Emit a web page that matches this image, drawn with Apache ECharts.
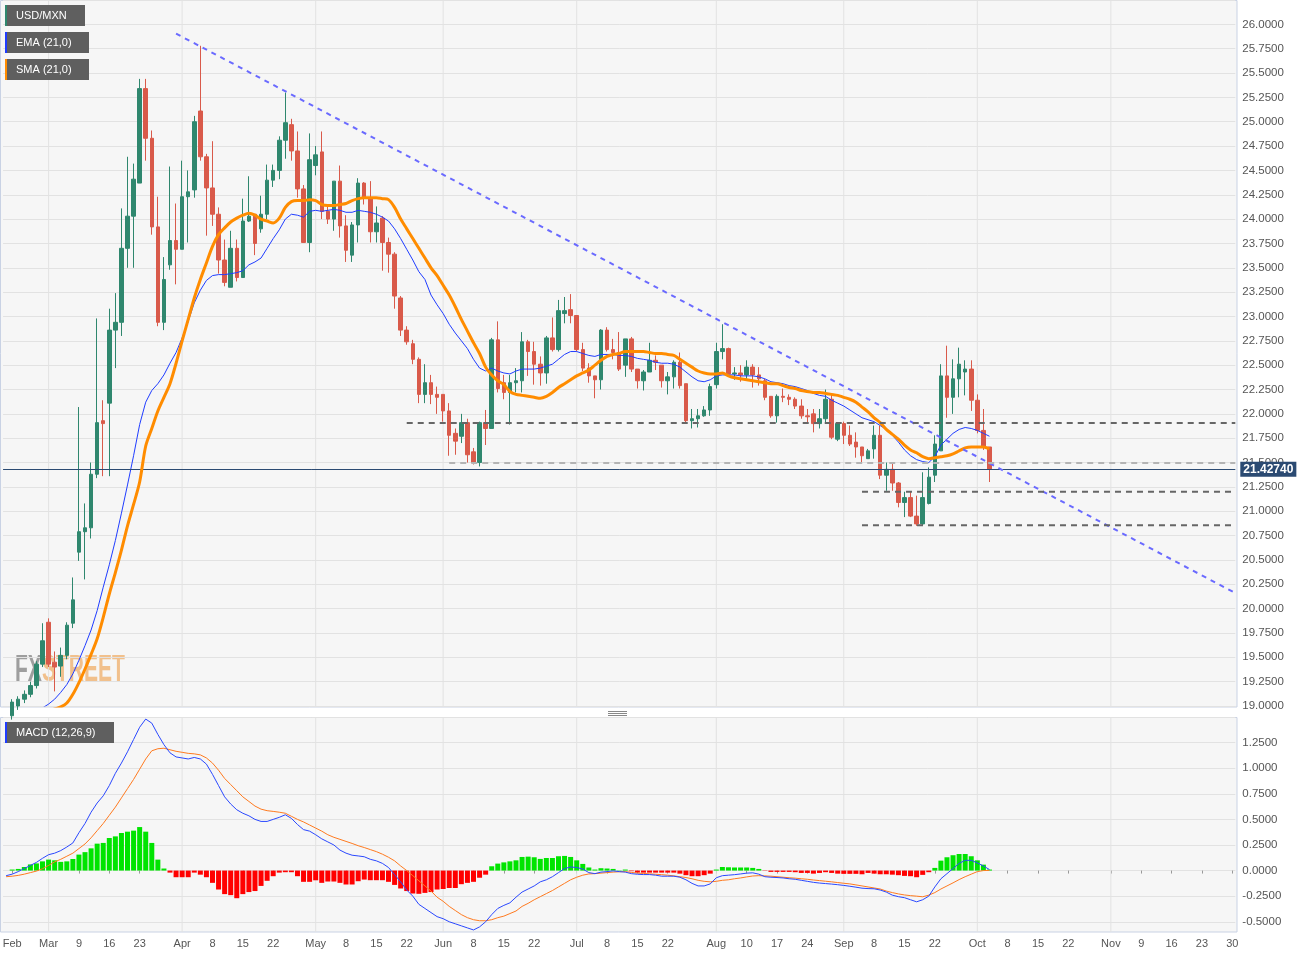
<!DOCTYPE html>
<html><head><meta charset="utf-8">
<script src="https://cdn.jsdelivr.net/npm/echarts@6/dist/echarts.min.js"></script>
<style>html,body{margin:0;padding:0;background:#fff;}#c{width:1314px;height:958px;}</style>
</head><body><div id="c"></div>
<script>
// ---------- DATA ----------
const START_DATE = '2020-02-20';
const END_DATE = '2020-11-30';

const OPEN = [18.72,18.90,19.00,19.07,19.12,19.21,19.43,19.86,19.45,19.41,19.52,19.85,20.58,20.79,20.83,21.38,21.93,22.11,22.86,22.94,
23.70,24.03,24.37,25.34,24.83,23.92,22.94,23.53,23.78,23.69,24.23,24.30,25.11,24.64,24.32,24.05,23.58,23.30,23.70,23.40,
23.98,24.05,23.90,24.05,24.40,24.50,24.81,24.97,24.70,24.31,23.76,24.55,24.69,24.08,24.00,24.39,23.93,23.63,23.94,24.37,
24.22,23.87,24.01,23.76,23.64,23.19,22.86,22.72,22.56,22.20,22.32,22.20,22.20,22.03,21.80,21.77,21.91,21.61,21.50,21.91,
21.85,22.76,22.32,22.22,22.32,22.34,22.74,22.64,22.51,22.42,22.78,22.66,23.03,23.07,23.01,22.66,22.47,22.39,22.35,22.86,
22.66,22.63,22.50,22.77,22.46,22.34,22.43,22.55,22.50,22.34,22.38,22.53,22.31,21.93,21.95,21.98,22.04,22.30,22.64,22.67,
22.41,22.42,22.40,22.48,22.40,22.34,22.18,21.98,22.18,22.17,22.15,22.08,21.98,22.00,21.90,21.95,22.15,21.74,21.90,21.78,
21.71,21.66,21.54,21.64,21.78,21.37,21.43,21.29,21.09,21.14,20.95,20.87,21.08,21.37,21.62,22.39,22.17,22.36,22.43,22.46,
22.14,21.83,21.66];
const CLOSE = [18.86,19.04,19.07,19.12,19.21,19.43,19.67,19.43,19.40,19.52,19.83,20.09,20.79,20.83,21.38,21.91,21.90,22.86,22.94,23.70,
24.03,24.41,25.34,24.83,23.92,22.94,23.38,23.78,23.69,24.23,24.28,25.00,24.64,24.32,24.05,23.58,23.35,23.70,23.40,23.98,
24.03,23.75,24.05,24.40,24.50,24.81,24.99,24.70,24.31,23.76,24.61,24.66,24.08,24.00,24.39,23.93,23.68,23.94,24.37,24.22,
23.87,23.96,23.76,23.64,23.21,22.86,22.74,22.56,22.20,22.32,22.20,22.17,22.03,21.78,21.72,21.91,21.58,21.50,21.91,21.85,
22.76,22.26,22.22,22.32,22.34,22.74,22.64,22.51,22.42,22.78,22.66,23.06,23.06,23.01,22.66,22.47,22.39,22.35,22.86,22.66,
22.63,22.46,22.77,22.46,22.34,22.43,22.55,22.53,22.34,22.38,22.53,22.29,21.93,21.95,21.98,22.04,22.28,22.64,22.67,22.41,
22.42,22.40,22.48,22.40,22.36,22.17,21.98,22.18,22.17,22.15,22.08,21.98,21.97,21.90,21.95,22.15,21.76,21.90,21.78,21.69,
21.66,21.57,21.62,21.78,21.37,21.43,21.29,21.09,21.14,20.95,20.87,21.14,21.35,21.69,22.39,22.17,22.36,22.51,22.46,22.14,
21.83,21.66,21.43];
const LOW = [18.68,18.86,18.96,19.03,19.09,19.18,19.40,19.40,19.15,19.30,19.48,19.80,20.49,20.30,20.72,21.34,21.36,21.36,22.47,22.80,
23.50,23.50,24.37,24.60,23.84,22.90,22.86,23.48,23.33,23.69,23.76,24.22,24.60,23.83,23.93,23.44,23.31,23.30,23.36,23.40,
23.97,23.63,23.86,24.00,24.33,24.41,24.62,24.60,24.22,23.76,23.66,24.45,24.00,23.95,23.88,23.81,23.56,23.56,23.76,24.15,
23.76,23.76,23.47,23.45,23.08,22.80,22.71,22.51,22.11,22.11,22.10,22.00,21.92,21.57,21.58,21.70,21.50,21.48,21.46,21.68,
21.85,22.22,22.15,21.89,22.22,22.22,22.39,22.30,22.29,22.31,22.64,22.64,22.93,22.93,22.64,22.44,22.32,22.16,22.25,22.64,
22.56,22.44,22.38,22.43,22.26,22.24,22.43,22.45,22.27,22.20,22.26,22.26,21.91,21.85,21.86,21.97,21.98,22.26,22.56,22.41,
22.35,22.33,22.36,22.27,22.29,22.14,21.96,21.91,22.12,22.09,22.05,21.95,21.91,21.81,21.85,21.91,21.74,21.72,21.69,21.67,
21.55,21.50,21.54,21.54,21.33,21.21,21.21,21.04,20.94,20.94,20.85,20.85,21.07,21.30,21.62,21.96,22.00,22.17,22.19,22.03,
21.80,21.63,21.30];
const HIGH = [18.90,19.07,19.10,19.16,19.25,19.46,19.85,19.90,19.56,19.60,19.86,20.32,22.07,21.08,21.50,22.98,22.14,23.08,23.24,24.11,
24.64,24.57,25.44,25.44,24.91,24.23,23.61,24.54,24.16,24.60,24.50,25.06,25.78,24.67,24.80,24.12,23.79,23.88,23.79,24.21,
24.44,24.05,24.24,24.56,24.56,24.85,25.30,25.03,24.90,24.35,24.88,24.75,24.90,24.15,24.39,24.55,24.04,23.97,24.42,24.38,
24.39,24.13,24.03,23.81,23.66,23.21,22.90,22.76,22.58,22.51,22.40,22.28,22.20,22.11,21.85,22.00,21.95,21.65,21.92,22.04,
22.78,22.95,22.40,22.40,22.47,22.84,22.76,22.74,22.59,22.80,22.99,23.17,23.20,23.23,23.01,22.73,22.52,22.39,22.87,22.89,
22.77,22.84,22.77,22.79,22.46,22.45,22.73,22.60,22.50,22.43,22.55,22.63,22.31,22.05,22.05,22.08,22.31,22.73,22.92,22.68,
22.48,22.50,22.55,22.51,22.48,22.36,22.18,22.20,22.26,22.20,22.17,22.15,22.05,22.05,22.05,22.25,22.20,21.91,21.92,21.88,
21.81,21.66,21.64,21.88,21.88,21.50,21.49,21.30,21.20,21.20,21.16,21.40,21.45,21.78,22.51,22.70,22.56,22.68,22.55,22.55,
22.20,22.05,21.66];
const EMA21 = [18.78,18.82,18.86,18.89,18.92,18.95,18.98,19.02,19.07,19.14,19.22,19.33,19.47,19.62,19.78,19.98,20.22,20.45,20.70,20.98,
21.27,21.57,21.89,22.12,22.24,22.31,22.40,22.52,22.63,22.78,22.95,23.14,23.27,23.37,23.42,23.43,23.43,23.44,23.45,23.47,
23.53,23.56,23.60,23.70,23.80,23.89,24.00,24.05,24.04,24.02,24.08,24.09,24.08,24.09,24.10,24.09,24.07,24.07,24.09,24.08,
24.07,24.05,24.02,23.98,23.90,23.80,23.69,23.58,23.46,23.38,23.22,23.12,23.03,22.92,22.83,22.75,22.67,22.56,22.47,22.44,
22.47,22.44,22.42,22.41,22.44,22.46,22.46,22.46,22.47,22.49,22.51,22.56,22.61,22.64,22.64,22.62,22.60,22.59,22.61,22.61,
22.61,22.60,22.60,22.59,22.57,22.56,22.55,22.53,22.52,22.52,22.51,22.48,22.43,22.38,22.34,22.33,22.35,22.39,22.40,22.40,
22.40,22.39,22.39,22.39,22.38,22.36,22.33,22.32,22.31,22.29,22.28,22.26,22.24,22.21,22.19,22.18,22.14,22.11,22.08,22.04,
22.00,21.96,21.94,21.92,21.88,21.84,21.78,21.71,21.63,21.57,21.53,21.51,21.50,21.56,21.68,21.74,21.80,21.84,21.86,21.85,
21.83,21.80,21.77];
const SMA21 = [18.62,18.66,18.70,18.74,18.79,18.84,18.89,18.94,18.97,18.99,19.03,19.12,19.24,19.38,19.53,19.69,19.91,20.15,20.37,20.60,
20.85,21.07,21.30,21.67,21.85,22.03,22.17,22.31,22.52,22.75,22.97,23.19,23.38,23.55,23.72,23.84,23.91,23.97,24.01,24.04,
24.06,24.04,24.00,23.98,23.96,24.01,24.12,24.18,24.19,24.19,24.20,24.19,24.15,24.14,24.14,24.15,24.16,24.19,24.21,24.22,
24.22,24.22,24.21,24.20,24.12,24.00,23.90,23.80,23.70,23.60,23.50,23.42,23.32,23.22,23.10,22.97,22.85,22.73,22.62,22.48,
22.40,22.34,22.30,22.23,22.20,22.19,22.18,22.17,22.16,22.18,22.22,22.27,22.31,22.35,22.39,22.42,22.45,22.50,22.55,22.59,
22.61,22.62,22.64,22.64,22.64,22.64,22.63,22.62,22.62,22.61,22.60,22.56,22.52,22.48,22.44,22.42,22.41,22.41,22.42,22.39,
22.37,22.36,22.35,22.34,22.33,22.32,22.31,22.31,22.29,22.27,22.26,22.24,22.23,22.22,22.22,22.21,22.20,22.19,22.17,22.15,
22.12,22.07,22.02,21.96,21.91,21.84,21.79,21.74,21.68,21.63,21.60,21.56,21.54,21.55,21.56,21.57,21.59,21.62,21.65,21.66,
21.66,21.66,21.64];
const MACD_LINE = [-0.05,-0.035,-0.01,0.02,0.05,0.08,0.12,0.155,0.17,0.195,0.23,0.27,0.37,0.46,0.57,0.66,0.73,0.83,0.95,1.05,
1.16,1.28,1.40,1.48,1.44,1.33,1.23,1.15,1.11,1.10,1.09,1.105,1.09,1.04,0.94,0.83,0.72,0.65,0.594,0.56,
0.535,0.50,0.48,0.48,0.50,0.52,0.545,0.51,0.45,0.40,0.385,0.35,0.31,0.28,0.25,0.20,0.17,0.15,0.143,0.135,
0.11,0.095,0.07,0.03,-0.04,-0.11,-0.19,-0.25,-0.33,-0.37,-0.41,-0.45,-0.47,-0.50,-0.52,-0.54,-0.56,-0.58,-0.55,-0.50,
-0.43,-0.37,-0.34,-0.315,-0.26,-0.21,-0.18,-0.15,-0.11,-0.09,-0.06,-0.02,0.02,0.035,0.03,0.015,-0.02,-0.03,-0.015,-0.01,
-0.003,-0.01,-0.015,-0.03,-0.036,-0.039,-0.039,-0.045,-0.055,-0.055,-0.055,-0.065,-0.09,-0.125,-0.15,-0.15,-0.13,-0.07,-0.05,-0.045,
-0.04,-0.033,-0.025,-0.022,-0.035,-0.06,-0.065,-0.068,-0.072,-0.08,-0.085,-0.095,-0.105,-0.115,-0.122,-0.127,-0.132,-0.138,-0.145,-0.153,
-0.162,-0.172,-0.176,-0.178,-0.19,-0.21,-0.24,-0.255,-0.265,-0.285,-0.305,-0.285,-0.25,-0.16,-0.08,-0.03,0.02,0.07,0.10,0.10,
0.075,0.045,0.01];
const MACD_SIGNAL = [-0.06,-0.055,-0.047,-0.035,-0.02,-0.005,0.018,0.05,0.085,0.11,0.14,0.17,0.215,0.26,0.32,0.39,0.46,0.54,0.62,0.71,
0.80,0.89,0.99,1.09,1.17,1.19,1.195,1.18,1.165,1.155,1.145,1.14,1.13,1.10,1.05,0.98,0.90,0.84,0.78,0.72,
0.675,0.63,0.60,0.585,0.578,0.57,0.56,0.53,0.50,0.475,0.445,0.415,0.385,0.35,0.325,0.305,0.285,0.265,0.243,0.225,
0.205,0.185,0.16,0.13,0.095,0.045,0.0,-0.05,-0.10,-0.15,-0.20,-0.26,-0.30,-0.35,-0.39,-0.43,-0.46,-0.48,-0.49,-0.49,
-0.48,-0.46,-0.445,-0.42,-0.395,-0.35,-0.32,-0.285,-0.255,-0.225,-0.195,-0.16,-0.125,-0.09,-0.065,-0.045,-0.033,-0.03,-0.025,-0.02,
-0.015,-0.012,-0.01,-0.018,-0.025,-0.028,-0.032,-0.036,-0.04,-0.045,-0.052,-0.06,-0.068,-0.08,-0.095,-0.105,-0.11,-0.105,-0.095,-0.09,
-0.08,-0.072,-0.062,-0.053,-0.05,-0.052,-0.055,-0.06,-0.065,-0.07,-0.074,-0.08,-0.085,-0.092,-0.098,-0.104,-0.11,-0.117,-0.124,-0.13,
-0.14,-0.15,-0.16,-0.17,-0.18,-0.20,-0.215,-0.228,-0.238,-0.245,-0.25,-0.256,-0.24,-0.215,-0.18,-0.15,-0.12,-0.088,-0.06,-0.035,
-0.01,0.0,0.002];
const MACD_HIST = [0.0,0.01,0.016,0.035,0.06,0.07,0.09,0.107,0.10,0.085,0.09,0.113,0.156,0.18,0.217,0.263,0.27,0.318,0.334,0.367,
0.38,0.39,0.425,0.38,0.27,0.107,0.02,-0.02,-0.065,-0.065,-0.065,-0.02,-0.04,-0.065,-0.12,-0.185,-0.23,-0.24,-0.27,-0.23,
-0.21,-0.20,-0.15,-0.10,-0.055,-0.02,-0.016,-0.016,-0.055,-0.11,-0.11,-0.095,-0.12,-0.107,-0.107,-0.12,-0.136,-0.136,-0.104,-0.088,
-0.094,-0.094,-0.094,-0.11,-0.14,-0.175,-0.20,-0.224,-0.227,-0.218,-0.21,-0.185,-0.18,-0.17,-0.17,-0.133,-0.12,-0.11,-0.07,-0.04,
0.042,0.068,0.08,0.09,0.10,0.133,0.136,0.13,0.114,0.123,0.123,0.14,0.143,0.133,0.10,0.065,0.03,0.01,0.023,0.02,
0.016,0.003,0.01,-0.006,-0.02,-0.02,-0.02,-0.02,-0.02,-0.02,-0.02,-0.03,-0.045,-0.055,-0.055,-0.045,-0.03,0.01,0.035,0.032,
0.03,0.03,0.03,0.026,0.016,-0.003,-0.013,-0.013,-0.013,-0.013,-0.016,-0.023,-0.023,-0.03,-0.023,-0.016,-0.023,-0.03,-0.032,-0.032,
-0.032,-0.036,-0.023,-0.03,-0.036,-0.036,-0.04,-0.045,-0.052,-0.055,-0.065,-0.042,-0.016,0.026,0.097,0.13,0.15,0.162,0.162,0.14,
0.10,0.058,0.01];

const TICK_LABELS = [['2020-02-21','Feb'],['2020-03-02','Mar'],['2020-03-09','9'],['2020-03-16','16'],['2020-03-23','23'],
['2020-04-01','Apr'],['2020-04-08','8'],['2020-04-15','15'],['2020-04-22','22'],['2020-05-01','May'],['2020-05-08','8'],
['2020-05-15','15'],['2020-05-22','22'],['2020-06-01','Jun'],['2020-06-08','8'],['2020-06-15','15'],['2020-06-22','22'],
['2020-07-01','Jul'],['2020-07-08','8'],['2020-07-15','15'],['2020-07-22','22'],['2020-08-03','Aug'],['2020-08-10','10'],
['2020-08-17','17'],['2020-08-24','24'],['2020-09-01','Sep'],['2020-09-08','8'],['2020-09-15','15'],['2020-09-22','22'],
['2020-10-01','Oct'],['2020-10-08','8'],['2020-10-15','15'],['2020-10-22','22'],['2020-11-02','Nov'],['2020-11-09','9'],
['2020-11-16','16'],['2020-11-23','23'],['2020-11-30','30']];
const MONTH_STARTS = ['2020-03-02','2020-04-01','2020-05-01','2020-06-01','2020-07-01','2020-08-03','2020-09-01','2020-10-01','2020-11-02'];
const LAST_PRICE = 21.4274;
// trend line: [bar index, price]
const TREND_LINE = [[28, 25.905], [202.5, 20.16]];
// horizontal levels: [start bar index, price]
const LEVELS_DARK = [[66, 21.905], [141, 21.20], [141, 20.855]];
const LEVELS_LIGHT = [[73, 21.495]];

// ---------- BUILD ----------
function weekdays(a, b) {
  const out = []; let d = new Date(a + 'T00:00:00Z'); const e = new Date(b + 'T00:00:00Z');
  while (d <= e) { const w = d.getUTCDay(); if (w > 0 && w < 6) out.push(d.toISOString().slice(0, 10)); d = new Date(d.getTime() + 86400000); }
  return out;
}
const CATS = weekdays(START_DATE, END_DATE);
const NCAT = CATS.length;
const labelMap = {}; TICK_LABELS.forEach(([d, t]) => labelMap[d] = t);
const FONT = '"Liberation Sans", Arial, sans-serif';

const chart = echarts.init(document.getElementById('c'), null, {renderer: 'canvas'});
const GL = 3.07, GR = 1314 - 1235.3;

function monthLineData(y0, y1) {
  const d = [];
  MONTH_STARTS.forEach(m => { d.push([m, y0]); d.push([m, y1]); d.push([m, '-']); });
  return d;
}
function legendBox(x, y, w, label, stripe) {
  return [
    {type: 'rect', z: 100, z2: 1, silent: true, shape: {x: x, y: y, width: w, height: 21}, style: {fill: '#5f5f5f'}},
    {type: 'rect', z: 100, z2: 2, silent: true, shape: {x: x, y: y, width: 2, height: 21}, style: {fill: stripe}},
    {type: 'text', z: 100, z2: 3, silent: true, x: x + 11, y: y + 11,
      style: {text: label, fill: '#ffffff', textFill: '#ffffff', font: '11px ' + FONT, verticalAlign: 'middle', textVerticalAlign: 'middle'}}
  ];
}

const series = [];
// month vertical gridlines
series.push({type: 'line', xAxisIndex: 0, yAxisIndex: 0, data: monthLineData(19, 26.25), symbol: 'none', silent: true, z: 1,
  lineStyle: {color: '#e2e2e2', width: 1}, connectNulls: false, animation: false});
series.push({type: 'line', xAxisIndex: 1, yAxisIndex: 1, data: monthLineData(-0.6, 1.5), symbol: 'none', silent: true, z: 1,
  lineStyle: {color: '#e2e2e2', width: 1}, connectNulls: false, animation: false});
// candles
series.push({type: 'candlestick', xAxisIndex: 0, yAxisIndex: 0, z: 3, barWidth: 4,
  data: OPEN.map((o, i) => [o, CLOSE[i], LOW[i], HIGH[i]]),
  itemStyle: {color: '#2f876e', color0: '#d95a4a', borderColor: '#2f876e', borderColor0: '#d95a4a', borderWidth: 1},
  markLine: {silent: true, symbol: ['none', 'none'], animation: false,
    lineStyle: {color: '#2b4a72', width: 1, type: 'solid'},
    label: {show: true, position: 'end', formatter: LAST_PRICE.toFixed(5), color: '#fff', backgroundColor: '#2b4a72',
      padding: [2, 3, 1, 3], fontSize: 12, fontWeight: 'bold', fontFamily: FONT, distance: 5},
    data: [{yAxis: LAST_PRICE}]}
});
// EMA / SMA
series.push({type: 'line', name: 'EMA', xAxisIndex: 0, yAxisIndex: 0, data: EMA21, symbol: 'none', z: 4,
  lineStyle: {color: '#1f3cff', width: 1}});
series.push({type: 'line', name: 'SMA', xAxisIndex: 0, yAxisIndex: 0, data: SMA21, symbol: 'none', z: 5, smooth: 0.3,
  lineStyle: {color: '#ff8c00', width: 3}});
// trend line
series.push({type: 'line', xAxisIndex: 2, yAxisIndex: 0, data: TREND_LINE, symbol: 'none', z: 6, silent: true,
  lineStyle: {color: '#6a6aff', width: 2, type: [5, 5]}});
// levels
LEVELS_DARK.forEach(([s, v]) => series.push({type: 'line', xAxisIndex: 2, yAxisIndex: 0, data: [[s, v], [NCAT - 0.5, v]],
  symbol: 'none', z: 6, silent: true, lineStyle: {color: '#666666', width: 2, type: [6, 5]}}));
LEVELS_LIGHT.forEach(([s, v]) => series.push({type: 'line', xAxisIndex: 2, yAxisIndex: 0, data: [[s, v], [NCAT - 0.5, v]],
  symbol: 'none', z: 6, silent: true, lineStyle: {color: '#b4b4b4', width: 2, type: [6, 5]}}));
// MACD
series.push({type: 'bar', xAxisIndex: 1, yAxisIndex: 1, z: 3, barWidth: 5,
  data: MACD_HIST.map(v => ({value: v, itemStyle: {color: v >= 0 ? '#00e400' : '#ff0000'}}))});
series.push({type: 'line', xAxisIndex: 1, yAxisIndex: 1, data: MACD_LINE, symbol: 'none', z: 5, lineStyle: {color: '#2a48ff', width: 1}});
series.push({type: 'line', xAxisIndex: 1, yAxisIndex: 1, data: MACD_SIGNAL, symbol: 'none', z: 4, lineStyle: {color: '#ff7a1f', width: 1}});

const yLabel = {show: true, color: '#555', fontSize: 11.5, fontFamily: FONT, margin: 7, formatter: v => v.toFixed(4), showMaxLabel: false};
const option = {
  animation: false,
  backgroundColor: '#ffffff',
  textStyle: {fontFamily: FONT},
  grid: [
    {left: GL, right: GR, top: 0, height: 706, outerBoundsMode: 'none', containLabel: false},
    {left: GL, right: GR, top: 717, height: 215, outerBoundsMode: 'none', containLabel: false},
    {left: GL, right: GR, top: 717, height: 204.8, outerBoundsMode: 'none', containLabel: false}
  ],
  xAxis: [
    {type: 'category', gridIndex: 0, data: CATS, boundaryGap: true, axisLine: {show: false}, axisTick: {show: false}, axisLabel: {show: false}, splitLine: {show: false}},
    {type: 'category', gridIndex: 1, data: CATS, boundaryGap: true, axisLine: {show: false},
      axisTick: {show: true, alignWithLabel: true, length: 3, lineStyle: {color: '#999'}, interval: (i, v) => labelMap[v] !== undefined},
      axisLabel: {show: true, color: '#555', fontSize: 11, fontFamily: FONT, margin: 6, interval: (i, v) => labelMap[v] !== undefined, formatter: v => labelMap[v] || ''},
      splitLine: {show: false}},
    {type: 'value', gridIndex: 0, min: -0.5, max: NCAT - 0.5, show: false},
    {type: 'category', gridIndex: 2, data: CATS, show: false}
  ],
  yAxis: [
    {type: 'value', gridIndex: 0, position: 'right', min: 19, max: 26.25, interval: 0.25,
      axisLine: {show: false}, axisTick: {show: false},
      axisLabel: yLabel, splitLine: {show: true, lineStyle: {color: '#e2e2e2', width: 1}}},
    {type: 'value', gridIndex: 1, min: -0.6, max: 1.5, show: false, splitLine: {show: false}},
    {type: 'value', gridIndex: 2, position: 'right', min: -0.5, max: 1.5, interval: 0.25,
      axisLine: {show: false}, axisTick: {show: false},
      axisLabel: yLabel, splitLine: {show: true, lineStyle: {color: '#e2e2e2', width: 1}}}
  ],
  graphic: [
    {type: 'rect', z: -10, silent: true, shape: {x: 0.5, y: 0.5, width: 1236.5, height: 706.5}, style: {fill: '#f6f6f6', stroke: '#c9d2e4', lineWidth: 1}},
    {type: 'rect', z: -10, silent: true, shape: {x: 0.5, y: 717.5, width: 1236.5, height: 214.5}, style: {fill: '#f6f6f6', stroke: '#c9d2e4', lineWidth: 1}},
    {type: 'text', z: -5, silent: true, x: 15, y: 689, scaleX: 0.585, originX: 0, originY: 0,
      style: {text: 'FX', fill: 'rgba(128,128,128,0.75)', font: 'bold 36px ' + FONT, verticalAlign: 'bottom', textVerticalAlign: 'bottom'}},
    {type: 'text', z: -5, silent: true, x: 15 + 46 * 0.585, y: 689, scaleX: 0.585, originX: 0, originY: 0,
      style: {text: 'STREET', fill: 'rgba(240,170,95,0.7)', font: 'bold 36px ' + FONT, verticalAlign: 'bottom', textVerticalAlign: 'bottom'}},
    {type: 'line', silent: true, z: 50, shape: {x1: 608, y1: 711.5, x2: 627, y2: 711.5}, style: {stroke: '#888', lineWidth: 1}},
    {type: 'line', silent: true, z: 50, shape: {x1: 608, y1: 713.5, x2: 627, y2: 713.5}, style: {stroke: '#888', lineWidth: 1}},
    {type: 'line', silent: true, z: 50, shape: {x1: 608, y1: 715.5, x2: 627, y2: 715.5}, style: {stroke: '#888', lineWidth: 1}}
  ].concat(
    legendBox(5, 5, 80, 'USD/MXN', '#2f876e'),
    legendBox(5, 32, 84, 'EMA (21,0)', '#1f3cff'),
    legendBox(5, 59, 84, 'SMA (21,0)', '#ff8c00'),
    legendBox(5, 722, 109, 'MACD (12,26,9)', '#1f3cff')
  ),
  series: series
};
chart.setOption(option);
</script>
</body></html>
